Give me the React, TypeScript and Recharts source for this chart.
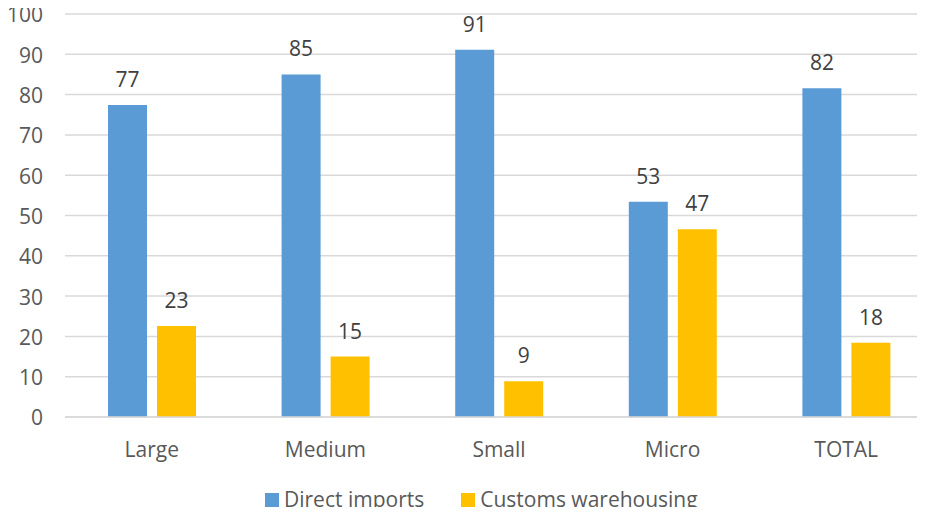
import React from 'react';
import { BarChart, Bar, XAxis, YAxis, CartesianGrid, Legend, LabelList } from 'recharts';

const categories = ['Large', 'Medium', 'Small', 'Micro', 'TOTAL'];
const directImports = [77.4, 85, 91.1, 53.4, 81.6];
const customsWarehousing = [22.6, 15, 8.9, 46.6, 18.4];
const seriesNames = ['Direct imports', 'Customs warehousing'];
const yTicks = [0, 10, 20, 30, 40, 50, 60, 70, 80, 90, 100];

const data = categories.map((c, i) => ({
  name: c,
  direct: directImports[i],
  customs: customsWarehousing[i],
}));

const FONT = '"Open Sans", "Noto Sans", sans-serif';
const FS = 21;

const renderLegend = (props: any) => {
  const payload = [...(props.payload || [])].sort(
    (a: any, b: any) => seriesNames.indexOf(a.value) - seriesNames.indexOf(b.value)
  );
  return (
    <div style={{ display: 'flex', alignItems: 'center', fontFamily: FONT, fontSize: FS, lineHeight: '26px', color: '#595959', whiteSpace: 'nowrap' }}>
      {payload.map((p: any, i: number) => (
        <div key={i} style={{ display: 'flex', alignItems: 'center', marginRight: i === 0 ? 37 : 0 }}>
          <span style={{ display: 'inline-block', width: 14, height: 14, background: p.color, marginRight: 5, marginTop: 2 }} />
          <span>{p.value}</span>
        </div>
      ))}
    </div>
  );
};

export default function App() {
  return (
    <div style={{ margin: -8, width: 925, height: 515, overflow: 'hidden', background: '#fff', position: 'relative' }}>
      <BarChart
        width={945}
        height={515}
        data={data}
        margin={{ top: 14, right: 12, left: 0, bottom: 0 }}
        barGap={10}
        barSize={39}
      >
        <CartesianGrid vertical={false} stroke="#d9d9d9" strokeWidth={1.5} />
        <XAxis
          dataKey="name"
          height={98}
          tickLine={false}
          axisLine={{ stroke: '#d9d9d9', strokeWidth: 1.5 }}
          tickSize={21}
          tickMargin={4}
          tick={{ fill: '#595959', fontSize: FS, fontFamily: FONT }}
        />
        <YAxis
          width={65}
          domain={[0, 100]}
          ticks={yTicks}
          interval={0}
          tickLine={false}
          axisLine={false}
          tickSize={20}
          tickMargin={2}
          tick={{ fill: '#595959', fontSize: FS, fontFamily: FONT, dy: 1 }}
        />
        <Legend
          layout="horizontal"
          verticalAlign="middle"
          align="center"
          content={renderLegend}
          wrapperStyle={{ top: 486, left: 265, width: 480 }}
        />
        <Bar dataKey="direct" name={seriesNames[0]} fill="#5b9bd5" isAnimationActive={false}>
          <LabelList
            dataKey="direct"
            position="top"
            offset={18}
            formatter={(v: any) => Math.round(Number(v))}
            style={{ fill: '#404040', fontSize: FS, fontFamily: FONT }}
          />
        </Bar>
        <Bar dataKey="customs" name={seriesNames[1]} fill="#ffc000" isAnimationActive={false}>
          <LabelList
            dataKey="customs"
            position="top"
            offset={18}
            formatter={(v: any) => Math.round(Number(v))}
            style={{ fill: '#404040', fontSize: FS, fontFamily: FONT }}
          />
        </Bar>
      </BarChart>
    </div>
  );
}
